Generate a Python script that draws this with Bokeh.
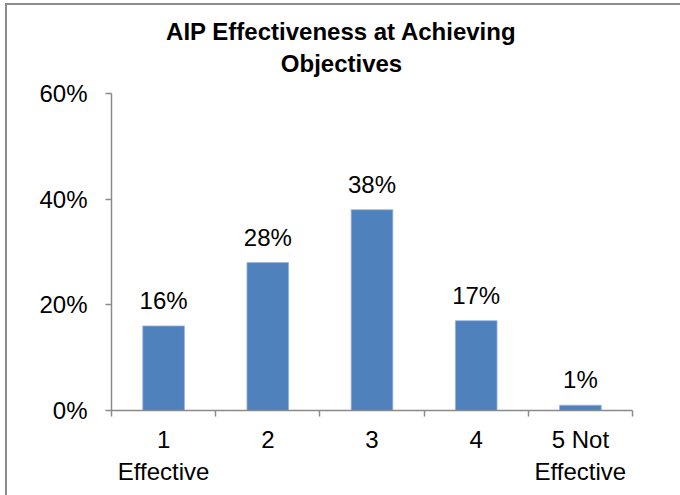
from bokeh.plotting import figure
from bokeh.models import (ColumnDataSource, FixedTicker, PrintfTickFormatter,
                          Range1d, LabelSet, Title, InlineStyleSheet)
from bokeh.core.properties import value
from bokeh.embed import file_html
from bokeh.resources import INLINE

# ---- data ----
categories = ["1\nEffective", "2", "3", "4", "5 Not\nEffective"]
values = [16, 28, 38, 17, 1]
y_ticks = [0, 20, 40, 60]
title_lines = ["AIP Effectiveness at Achieving", "Objectives"]

FONT = "Liberation Sans"
AXIS_COLOR = "#8a8a8a"
BAR_COLOR = "#4F81BD"

W, H = 680, 495
ML, MT, BW = 5, 3, 2          # chart border position / width on the page
FL, FR, FT, FB = 111, 632, 93, 410   # frame edges, canvas px

xs = list(range(1, len(categories) + 1))
src = ColumnDataSource(dict(x=xs, v=values, lbl=[f"{v}%" for v in values]))

border_css = InlineStyleSheet(css=(
    ":host::after { content: ''; position: absolute; "
    f"left: {ML}px; top: {MT}px; width: {W - ML - BW}px; height: {H - MT - BW}px; "
    f"border-left: {BW}px solid #8c8c8c; border-top: {BW}px solid #8c8c8c; "
    "pointer-events: none; z-index: 5; }"))

p = figure(width=W, height=H, output_backend="svg", toolbar_location=None,
           x_range=Range1d(0.5, len(categories) + 0.5),
           y_range=Range1d(0, max(y_ticks)),
           min_border_left=FL, min_border_right=W - FR,
           min_border_top=FT, min_border_bottom=H - FB,
           stylesheets=[border_css])
p.outline_line_color = None
p.grid.visible = False
p.background_fill_color = "white"
p.border_fill_color = "white"

p.vbar(x="x", top="v", width=0.4, bottom=0, source=src,
       fill_color=BAR_COLOR, line_color="#9db5d8", line_width=0.8)

labels = LabelSet(x="x", y="v", text="lbl", source=src, text_align="center",
                  text_baseline="alphabetic", y_offset=17,
                  text_font=value(FONT), text_font_size=value("24px"),
                  text_color="black")
p.add_layout(labels)

# y axis
ya = p.yaxis[0]
ya.ticker = FixedTicker(ticks=y_ticks)
ya.formatter = PrintfTickFormatter(format="%d%%")
ya.axis_line_color = AXIS_COLOR
ya.axis_line_width = 1.5
ya.major_tick_line_color = AXIS_COLOR
ya.major_tick_line_width = 1.5
ya.major_tick_in = 0
ya.major_tick_out = 6
ya.minor_tick_line_color = None
ya.major_label_text_font = FONT
ya.major_label_text_font_size = "24px"
ya.major_label_text_color = "black"
ya.major_label_standoff = 18

# x axis
xa = p.xaxis[0]
xa.ticker = FixedTicker(ticks=xs, minor_ticks=[x - 0.5 for x in xs] + [xs[-1] + 0.5])
xa.major_label_overrides = {x: c for x, c in zip(xs, categories)}
xa.axis_line_color = AXIS_COLOR
xa.axis_line_width = 1.5
xa.major_tick_line_color = None
xa.minor_tick_line_color = AXIS_COLOR
xa.minor_tick_line_width = 1.5
xa.minor_tick_in = 0
xa.minor_tick_out = 6
xa.major_label_text_font = FONT
xa.major_label_text_font_size = "24px"
xa.major_label_text_color = "black"
xa.major_label_standoff = 9

# two-line title, each line centred on x=341 of the page
def text_w(s):
    # Arial/Liberation Sans Bold advance widths (em)
    wd = {"A": .722, "I": .278, "P": .667, "E": .667, "O": .778, "f": .333,
          "e": .556, "c": .556, "t": .333, "i": .278, "v": .556, "n": .611,
          "s": .556, "a": .556, "h": .611, "g": .611, "b": .611, "j": .278,
          " ": .278}
    return sum(wd.get(ch, .556) for ch in s) * 24

t1 = p.title
t1.text = title_lines[0]
t2 = Title(text=title_lines[1])
for t in (t1, t2):
    t.align = "left"
    t.offset = 341 - FL - text_w(t.text) / 2
    t.text_font = FONT
    t.text_font_size = "24px"
    t.text_font_style = "bold"
    t.text_color = "black"
t2.standoff = 34
t1.standoff = -28
p.add_layout(t2, "above")

open("out.html", "w").write(file_html(p, INLINE))
